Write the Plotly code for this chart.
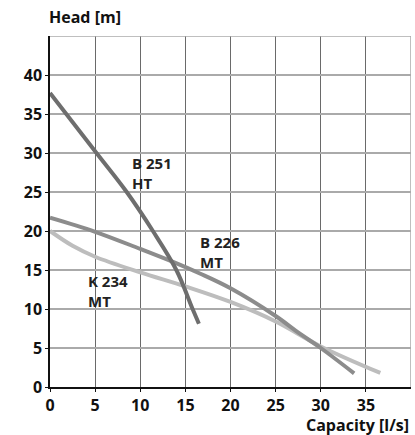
import plotly.graph_objects as go

# Data
b251_x = [0, 5.15, 8.5, 11.4, 14.0, 15.8, 16.5]
b251_y = [37.7, 30.0, 25.0, 20.0, 15.0, 10.0, 8.1]

b226_x = [0, 5, 10, 13.5, 16.6, 20, 25, 27.6, 30, 33.7]
b226_y = [21.7, 19.9, 17.7, 16.1, 14.55, 12.65, 9.1, 6.9, 5.0, 1.75]

k234_x = [0, 2.5, 5, 10, 15, 20, 25, 30, 36.6]
k234_y = [20.0, 18.1, 16.7, 14.7, 12.9, 10.9, 8.4, 5.2, 1.8]

x_ticks = [0, 5, 10, 15, 20, 25, 30, 35]
y_ticks = [0, 5, 10, 15, 20, 25, 30, 35, 40]

labels = [
    ("B 251<br>HT", 8.85, 27.4),
    ("B 226<br>MT", 16.35, 17.35),
    ("K 234<br>MT", 3.98, 12.3),
]

FONT = "Open Sans"

fig = go.Figure()
fig.add_trace(go.Scatter(x=k234_x, y=k234_y, mode="lines",
                         line=dict(color="#bdbdbd", width=4, shape="spline"), hoverinfo="skip"))
fig.add_trace(go.Scatter(x=b226_x, y=b226_y, mode="lines",
                         line=dict(color="#8c8c8c", width=4, shape="spline"), hoverinfo="skip"))
fig.add_trace(go.Scatter(x=b251_x, y=b251_y, mode="lines",
                         line=dict(color="#6e6e6e", width=4, shape="spline"), hoverinfo="skip"))

for txt, x, y in labels:
    fig.add_annotation(x=x, y=y, xref="x", yref="y", text=f"<b>{txt}</b>", showarrow=False,
                       xanchor="left", yanchor="middle", align="left",
                       font=dict(family=FONT, size=15, color="#222222"))

fig.add_annotation(x=0, y=1.0, xref="paper", yref="paper", yshift=19, xshift=-3,
                   text="<b>Head [m]</b>",
                   showarrow=False, xanchor="left", yanchor="middle",
                   font=dict(family=FONT, size=16, color="#111111"))
fig.add_annotation(x=1.0, y=0, xref="paper", yref="paper", yshift=-38, xshift=0,
                   text="<b>Capacity [l/s]</b>", showarrow=False, xanchor="right", yanchor="middle",
                   font=dict(family=FONT, size=16, color="#111111"))

fig.update_layout(
    width=415, height=435,
    margin=dict(l=50, r=4, t=36, b=48, autoexpand=False),
    paper_bgcolor="white", plot_bgcolor="white",
    showlegend=False,
    font=dict(family=FONT, size=16, color="#111111"),
)
fig.update_xaxes(range=[0, 40], tickvals=x_ticks, ticktext=[f"<b>{v}</b>" for v in x_ticks],
                 showgrid=True, gridcolor="#6a6a6a", gridwidth=1,
                 showline=True, linecolor="#111111", linewidth=1.5,
                 ticks="outside", ticklen=3, tickcolor="#111111",
                 zeroline=False, mirror=False,
                 tickfont=dict(family=FONT, size=16, color="#111111"))
fig.update_yaxes(range=[0, 45], tickvals=y_ticks, ticktext=[f"<b>{v}</b>" for v in y_ticks],
                 showgrid=True, gridcolor="#aaaaaa", gridwidth=1.5,
                 showline=True, linecolor="#111111", linewidth=1.5,
                 ticks="outside", ticklen=3, tickcolor="#111111",
                 zeroline=False,
                 tickfont=dict(family=FONT, size=16, color="#111111"))
fig.add_shape(type="line", xref="x", yref="y", x0=40, x1=40, y0=0, y1=45,
              line=dict(color="#aaaaaa", width=1.5))
fig.add_shape(type="line", xref="x", yref="y", x0=0, x1=40, y0=45, y1=45,
              line=dict(color="#aaaaaa", width=1.5))

fig.write_html("out.html", config={"displayModeBar": False},
               post_script="document.body.style.margin='0';document.body.style.padding='0';")
